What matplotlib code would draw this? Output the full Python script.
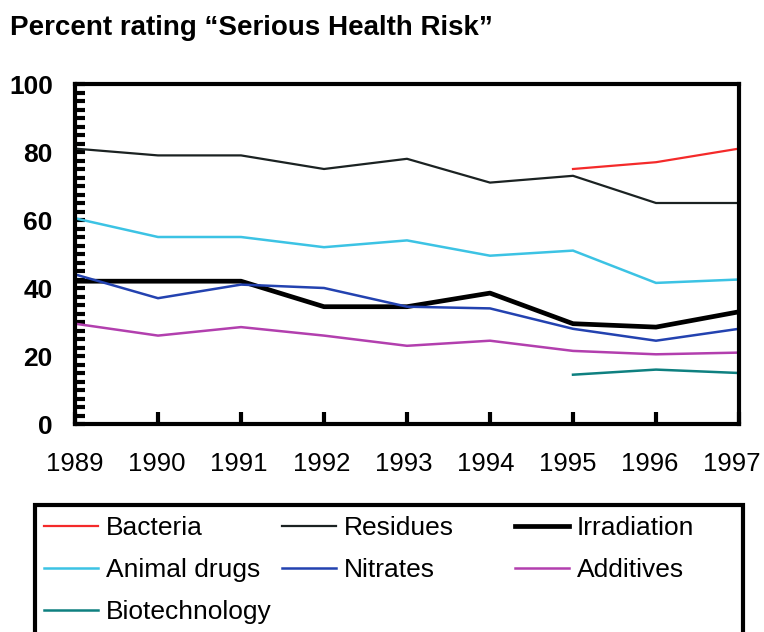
import matplotlib
matplotlib.use("Agg")
import matplotlib.pyplot as plt
from matplotlib.patches import Rectangle
from matplotlib.transforms import ScaledTranslation
import numpy as np

plt.rcParams['font.family'] = ['Liberation Sans', 'DejaVu Sans']

# Data
years = [1989, 1990, 1991, 1992, 1993, 1994, 1995, 1996, 1997]
late_years = [1995, 1996, 1997]

bacteria = [75, 77, 81]
residues = [81, 79, 79, 75, 78, 71, 73, 65, 65]
irradiation = [42, 42, 42, 34.5, 34.5, 38.5, 29.5, 28.5, 33]
animal_drugs = [60.5, 55, 55, 52, 54, 49.5, 51, 41.5, 42.5]
nitrates = [44, 37, 41, 40, 34.5, 34, 28, 24.5, 28]
additives = [29.5, 26, 28.5, 26, 23, 24.5, 21.5, 20.5, 21]
biotech = [14.5, 16, 15]

W, H = 764, 632
fig = plt.figure(figsize=(W / 100, H / 100), dpi=100)
ax = fig.add_axes([75 / W, 1 - 424 / H, (739 - 75) / W, (424 - 84) / H])

# plot lines
l_bac, = ax.plot(late_years, bacteria, color='#f42a2a', lw=1.6, label='Bacteria')
l_res, = ax.plot(years, residues, color='#1b2222', lw=1.6, label='Residues')
l_irr, = ax.plot(years, irradiation, color='black', lw=3.4, label='Irradiation')
l_ani, = ax.plot(years, animal_drugs, color='#3cc3e4', lw=1.8, label='Animal drugs')
l_nit, = ax.plot(years, nitrates, color='#2342b0', lw=1.8, label='Nitrates')
l_add, = ax.plot(years, additives, color='#b23fae', lw=1.8, label='Additives')
l_bio, = ax.plot(late_years, biotech, color='#0e8080', lw=1.8, label='Biotechnology')

ax.set_xlim(1989, 1997)
ax.set_ylim(0, 100)
ax.set_xticks(years)
ax.set_yticks(np.arange(0, 101, 20))
ax.set_yticks(np.arange(0, 101, 2.5), minor=True)

for s in ax.spines.values():
    s.set_linewidth(3)

ax.tick_params(axis='x', direction='in', length=9, width=3, pad=20, labelsize=18.5)
ax.tick_params(axis='y', which='both', direction='in', length=7, width=3, pad=16, labelsize=19)
for t in ax.get_yticklabels():
    t.set_fontweight('bold')

# year labels drift a little left towards the right end (last one fits inside)
xlabels = ax.get_xticklabels()
for i, t in enumerate(xlabels):
    dx = -7.0 * i / (len(xlabels) - 1)
    t.set_transform(t.get_transform() + ScaledTranslation(dx / 100, 0, fig.dpi_scale_trans))

fig.text(10 / W, 1 - 35 / H, 'Percent rating \u201cSerious Health Risk\u201d',
         fontsize=20, fontweight='bold', va='baseline', ha='left')

# legend box that runs off the bottom
fig.patches.append(Rectangle((35 / W, -0.05), (743 - 35) / W, 0.05 + 1 - 505 / H,
                             transform=fig.transFigure, fill=False, lw=3,
                             edgecolor='black', clip_on=False))

# three legend columns, filled row by row
columns = [([l_bac, l_ani, l_bio], 44), ([l_res, l_nit], 282), ([l_irr, l_add], 515)]
for hs, xpx in columns:
    fig.legend(handles=hs, labels=[h.get_label() for h in hs],
               loc='upper left', bbox_to_anchor=(xpx / W, 1 - 516 / H),
               frameon=False, fontsize=19, handlelength=2.05, handletextpad=0.3,
               labelspacing=0.68, borderaxespad=0, borderpad=0)

fig.savefig('out.png', dpi=100)
